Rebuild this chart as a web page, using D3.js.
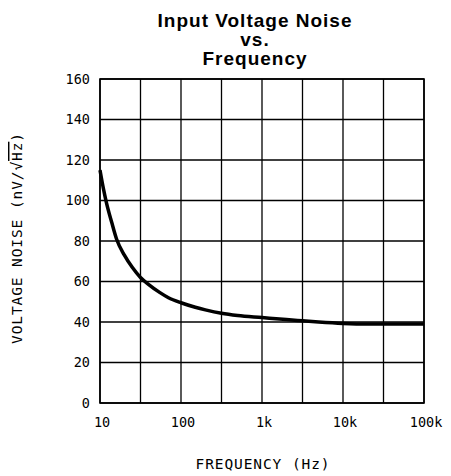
<!DOCTYPE html>
<html>
<head>
<meta charset="utf-8">
<script src="https://cdn.jsdelivr.net/npm/d3@7"></script>
<style>
  html, body { margin: 0; padding: 0; background: #fff; }
  svg { display: block; }
</style>
</head>
<body>
<svg id="chart" width="451" height="476"></svg>
<script>
// ---- data ----
const titleLines = ["Input Voltage Noise", "vs.", "Frequency"];
const freq  = [10, 11, 12, 14, 16, 20, 25, 31.6, 40, 55, 70, 100, 150, 200, 316, 500, 1000, 2000, 3160, 5000, 10000, 20000, 50000, 100000];
const noise = [115, 106, 99, 89, 81, 73, 67, 62, 58.5, 54.5, 52, 49.5, 47.3, 46, 44.3, 43.2, 42.2, 41.2, 40.6, 40, 39.3, 39, 39, 39];
const yTicks = [0, 20, 40, 60, 80, 100, 120, 140, 160];
const xTicks = [10, 100, 1000, 10000, 100000];
const xTickLabels = ["10", "100", "1k", "10k", "100k"];
const xGrid = [10, 31.6228, 100, 316.228, 1000, 3162.28, 10000, 31622.8, 100000];
const xTitle = "FREQUENCY (Hz)";

// ---- layout ----
const svg = d3.select("#chart");
const pL = 100, pR = 424, pT = 79, pB = 403;
const x = d3.scaleLog().domain([10, 100000]).range([pL, pR]);
const y = d3.scaleLinear().domain([0, 160]).range([pB, pT]);
const mono = "'DejaVu Sans Mono', monospace";

// title
svg.append("text")
  .attr("x", 255).attr("text-anchor", "middle")
  .attr("font-family", "'Liberation Sans', Arial, sans-serif")
  .attr("font-weight", "bold").attr("font-size", 19).attr("letter-spacing", 1)
  .selectAll("tspan").data(titleLines).join("tspan")
  .attr("x", 255).attr("y", (d, i) => 26.5 + i * 19)
  .text(d => d);

// grid
const g = svg.append("g").attr("stroke", "#000").attr("stroke-width", 1.3).attr("fill", "none");
g.selectAll("line.h").data(yTicks).join("line").attr("class", "h")
  .attr("x1", pL).attr("x2", pR)
  .attr("y1", d => y(d)).attr("y2", d => y(d));
g.selectAll("line.v").data(xGrid).join("line").attr("class", "v")
  .attr("y1", pT).attr("y2", pB)
  .attr("x1", d => x(d)).attr("x2", d => x(d));
g.append("rect").attr("x", pL).attr("y", pT).attr("width", pR - pL).attr("height", pB - pT)
  .attr("stroke-width", 1.6);

// y axis labels
const yAxis = d3.axisLeft(y).tickValues(yTicks).tickSize(0).tickPadding(10).tickFormat(d3.format("d"));
const ya = svg.append("g").attr("transform", `translate(${pL},0)`).call(yAxis);
ya.select(".domain").remove();
ya.selectAll("text").attr("font-family", mono).attr("font-size", 13.5).attr("fill", "#000");

// x axis labels
const xAxis = d3.axisBottom(x).tickValues(xTicks).tickSize(0).tickPadding(14)
  .tickFormat((d, i) => xTickLabels[i]);
const xa = svg.append("g").attr("transform", `translate(1.5,${pB})`).call(xAxis);
xa.select(".domain").remove();
xa.selectAll("text").attr("font-family", mono).attr("font-size", 13.5).attr("fill", "#000");

// curve
const line = d3.line().x((d, i) => x(freq[i])).y(d => y(d)).curve(d3.curveMonotoneX);
svg.append("path").datum(noise)
  .attr("d", line).attr("fill", "none").attr("stroke", "#000")
  .attr("stroke-width", 3.5).attr("stroke-linejoin", "round");

// axis titles
svg.append("text")
  .attr("x", 263).attr("y", 469).attr("text-anchor", "middle")
  .attr("font-family", mono).attr("font-size", 14.5).attr("letter-spacing", 0.9)
  .text(xTitle);

const yt = svg.append("text")
  .attr("transform", "translate(22,238) rotate(-90)")
  .attr("text-anchor", "middle")
  .attr("font-family", mono).attr("font-size", 14.5).attr("letter-spacing", 0.9);
yt.append("tspan").text("VOLTAGE NOISE (nV/√");
yt.append("tspan").attr("text-decoration", "overline").text("Hz");
yt.append("tspan").text(")");
</script>
</body>
</html>
